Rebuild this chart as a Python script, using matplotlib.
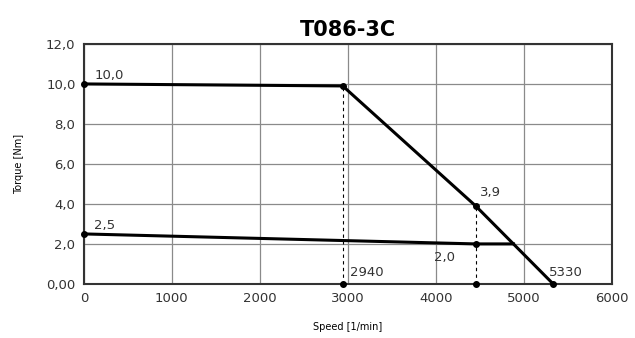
import matplotlib.pyplot as plt

# torque curves (speed in 1/min, torque in Nm)
peak_speed = [0, 2940, 4450, 5330]
peak_torque = [10.0, 9.9, 3.9, 0.0]
cont_speed = [0, 4450, 4880]
cont_torque = [2.5, 2.0, 2.0]

marker_speed = [0, 2940, 4450, 5330, 0, 4450, 2940, 4450]
marker_torque = [10.0, 9.9, 3.9, 0.0, 2.5, 2.0, 0.0, 0.0]

x_ticks = [0, 1000, 2000, 3000, 4000, 5000, 6000]
y_ticks = [0, 2, 4, 6, 8, 10, 12]
y_labels = ["0,00", "2,0", "4,0", "6,0", "8,0", "10,0", "12,0"]

fig = plt.figure(figsize=(6.35, 3.38), dpi=100)
ax = fig.add_axes([0.132, 0.160, 0.832, 0.710])

ax.plot(peak_speed, peak_torque, color="black", lw=2.2, zorder=3)
ax.plot(cont_speed, cont_torque, color="black", lw=2.2, zorder=3)
ax.plot(marker_speed, marker_torque, "o", color="black", ms=4, zorder=4, clip_on=False)

# dashed guide lines
ax.plot([2940, 2940], [0, 9.9], color="black", lw=0.8, ls=(0, (3, 3)), zorder=2)
ax.plot([4450, 4450], [0, 3.9], color="black", lw=0.8, ls=(0, (3, 3)), zorder=2)

ax.set_xlim(0, 6000)
ax.set_ylim(0, 12)
ax.set_xticks(x_ticks)
ax.set_yticks(y_ticks)
ax.set_yticklabels(y_labels)
ax.tick_params(labelsize=9.5, colors="#333333", length=0, pad=6)
ax.grid(True, color="#8a8a8a", lw=0.9)
for s in ax.spines.values():
    s.set_linewidth(1.5)
    s.set_color("#333333")

lab = dict(fontsize=9.5, color="#333333")
ax.text(120, 10.25, "10,0", **lab)
ax.text(120, 2.75, "2,5", **lab)
ax.text(3020, 0.4, "2940", **lab)
ax.text(4500, 4.4, "3,9", **lab)
ax.text(3980, 1.15, "2,0", **lab)
ax.text(5280, 0.4, "5330", **lab)

ax.set_title("T086-3C", fontsize=15, fontweight="bold", pad=6)
ax.set_xlabel("Speed [1/min]", fontsize=7, labelpad=12)
ax.set_ylabel("Torque [Nm]", fontsize=7, labelpad=16)

fig.savefig("out.png", dpi=100)
